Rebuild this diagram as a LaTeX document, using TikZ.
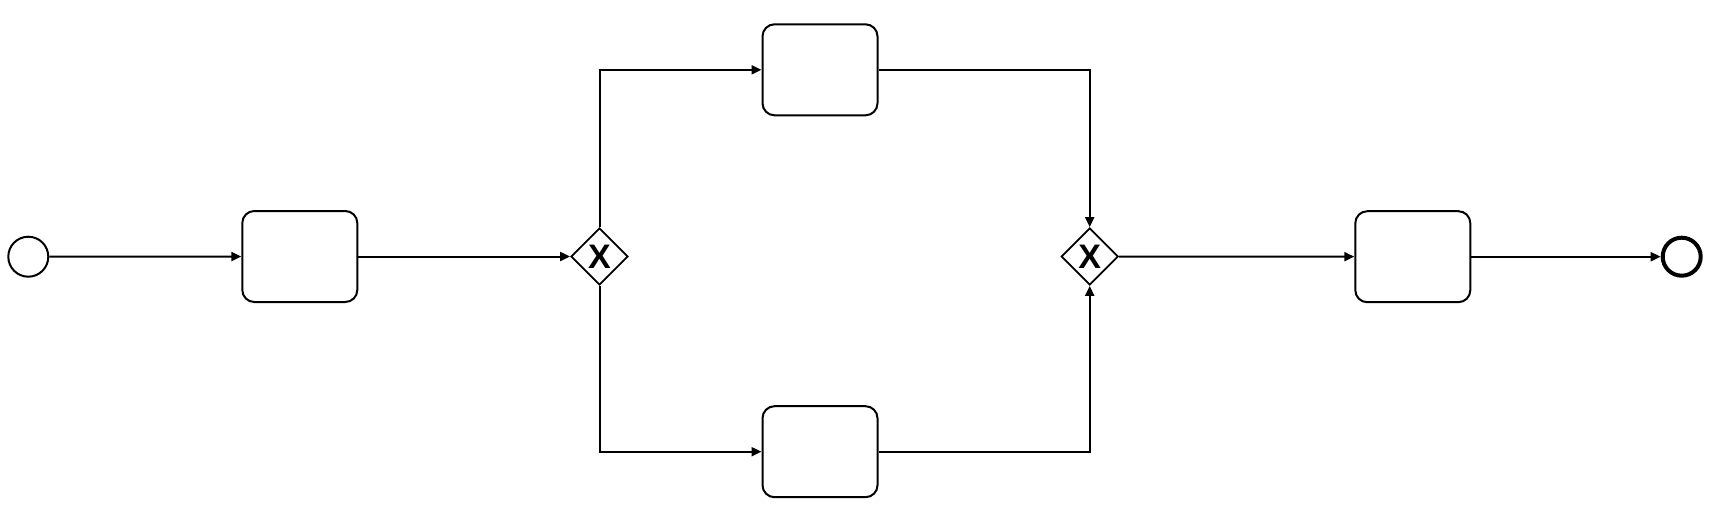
\documentclass[tikz,border=0pt]{standalone}
\usepackage{fontspec}
\setmainfont{Liberation Sans}
\usetikzlibrary{arrows.meta,shapes.geometric}
\begin{document}
\begin{tikzpicture}[x=1pt,y=-1pt,
  task/.style={draw,line width=2pt,rounded corners=12pt,minimum width=115pt,minimum height=91pt,inner sep=0pt},
  gate/.style={draw,line width=1.8pt,diamond,minimum width=57pt,minimum height=57pt,inner sep=0pt,font=\fontsize{34}{34}\selectfont\bfseries},
  startev/.style={draw,circle,line width=2pt,minimum size=40pt,inner sep=0pt},
  endev/.style={draw,circle,line width=4pt,minimum size=38pt,inner sep=0pt},
  flow/.style={line width=2pt,-{Triangle[length=10pt,width=9pt]}}]
\useasboundingbox (0,0) rectangle (1715,520);
\node[startev] (s) at (28.3,256.7) {};
\node[task] (t1) at (299.8,256.5) {};
\node[gate] (g1) at (599.5,256.5) {X};
\node[task] (t2) at (820,69.8) {};
\node[task] (t3) at (820,451.7) {};
\node[gate] (g2) at (1089.7,256.5) {X};
\node[task] (t4) at (1412.8,256.7) {};
\node[endev] (e) at (1681.7,256.7) {};
\draw[flow] (s) -- (t1);
\draw[flow] (t1) -- (g1);
\draw[flow] (g1.north) |- (t2.west);
\draw[flow] (g1.south) |- (t3.west);
\draw[flow] (t2.east) -| (g2.north);
\draw[flow] (t3.east) -| (g2.south);
\draw[flow] (g2) -- (t4);
\draw[flow] (t4) -- (e);
\end{tikzpicture}
\end{document}
